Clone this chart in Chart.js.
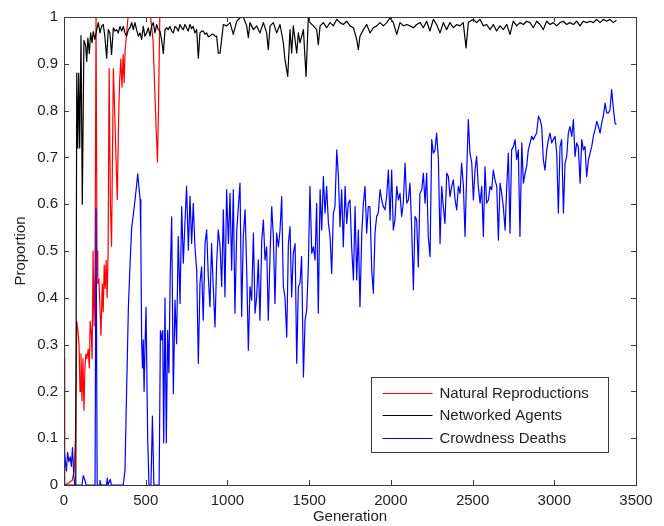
<!DOCTYPE html>
<html>
<head>
<meta charset="utf-8">
<title>Proportion per generation</title>
<script src="https://cdn.jsdelivr.net/npm/chart.js@4.4.0/dist/chart.umd.min.js"></script>
<style>
  html, body { margin: 0; padding: 0; background: #fff; }
  #chart { display: block; }
</style>
</head>
<body>
<canvas id="chart" width="664" height="526"></canvas>
<script>
// tick values and their labels on both axes
var xTicks = [0, 500, 1000, 1500, 2000, 2500, 3000, 3500];
var xTickLabels = ['0', '500', '1000', '1500', '2000', '2500', '3000', '3500'];
var yTicks = [0, 0.1, 0.2, 0.3, 0.4, 0.5, 0.6, 0.7, 0.8, 0.9, 1];
var yTickLabels = ['0', '0.1', '0.2', '0.3', '0.4', '0.5', '0.6', '0.7', '0.8', '0.9', '1'];

var seriesNames = ['Natural Reproductions', 'Networked Agents', 'Crowdness Deaths'];

// Natural Reproductions (red)
var redGen = [0, 4, 30, 50, 62, 70, 78, 85, 92, 98,
  104, 110, 116, 122, 128, 134, 140, 148, 155, 160,
  166, 172, 178, 184, 190, 196, 202, 207, 214, 220,
  226, 234, 240, 246, 252, 258, 264, 270, 276, 284,
  291, 302, 310, 318, 326, 334, 340, 348, 355, 362,
  368, 374, 382, 392, 530, 545, 555, 565, 572, 578,
  586, 600];
var redVal = [0.27, 0, 0.005, 0.01, 0.03, 0.1, 0.35, 0.33, 0.30, 0.2,
  0.28, 0.18, 0.27, 0.16, 0.25, 0.28, 0.27, 0.29, 0.25, 0.35,
  0.33, 0.27, 0.5, 0.34, 0.46, 1.0, 0.5, 0.43, 0.44, 0.38,
  0.32, 0.43, 0.37, 0.47, 0.42, 0.48, 0.40, 0.5, 0.89, 0.6,
  0.51, 0.89, 0.8, 0.7, 0.61, 0.78, 0.86, 0.91, 0.85, 0.92,
  0.86, 0.93, 0.96, 1.0, 1.0, 0.95, 0.85, 0.75, 0.69, 0.8,
  1.0, 1.0];

// Networked Agents (black)
var blackGen = [0, 3, 72, 78, 84, 90, 96, 104, 112, 122,
  132, 139, 146, 155, 163, 172, 179, 189, 200, 210,
  220, 230, 240, 250, 261, 271, 281, 291, 302, 312,
  322, 332, 343, 353, 363, 373, 383, 394, 404, 414,
  424, 434, 444, 455, 465, 475, 485, 495, 506, 516,
  526, 536, 546, 557, 567, 577, 587, 597, 608, 618,
  628, 638, 648, 659, 669, 679, 689, 699, 710, 720,
  730, 740, 750, 760, 771, 781, 791, 801, 812, 822,
  832, 842, 852, 863, 873, 883, 893, 903, 914, 924,
  934, 944, 955, 975, 995, 1016, 1036, 1057, 1077, 1097,
  1118, 1128, 1138, 1159, 1179, 1199, 1220, 1240, 1250, 1261,
  1281, 1301, 1322, 1342, 1352, 1369, 1383, 1393, 1403, 1424,
  1434, 1444, 1465, 1481, 1495, 1505, 1526, 1546, 1556, 1567,
  1587, 1607, 1628, 1648, 1669, 1689, 1709, 1730, 1750, 1771,
  1791, 1801, 1811, 1832, 1852, 1873, 1893, 1913, 1934, 1954,
  1975, 1995, 2015, 2036, 2056, 2077, 2097, 2117, 2138, 2158,
  2179, 2199, 2219, 2239, 2260, 2280, 2301, 2321, 2341, 2362,
  2382, 2403, 2423, 2443, 2460, 2474, 2484, 2505, 2525, 2545,
  2566, 2586, 2607, 2627, 2647, 2668, 2688, 2709, 2729, 2749,
  2770, 2790, 2811, 2831, 2851, 2872, 2892, 2913, 2933, 2953,
  2974, 2994, 3015, 3035, 3055, 3076, 3096, 3117, 3137, 3157,
  3178, 3198, 3219, 3239, 3259, 3280, 3300, 3321, 3341, 3361,
  3380];
var blackVal = [0.85, 0, 0, 0.88, 0.72, 0.88, 0.72, 0.96, 0.60, 0.95,
  0.94, 0.905, 0.955, 0.922, 0.966, 0.945, 0.969, 0.952, 0.973, 0.988,
  0.966, 0.980, 0.984, 0.959, 0.912, 0.973, 0.966, 0.920, 0.977, 0.970,
  0.973, 0.966, 0.980, 0.970, 0.980, 0.966, 0.959, 0.973, 0.977, 0.988,
  0.973, 0.988, 0.973, 0.959, 0.966, 0.952, 0.980, 0.959, 0.966, 0.977,
  0.959, 0.980, 0.988, 0.966, 0.984, 0.973, 0.970, 0.952, 0.922, 0.973,
  0.977, 0.973, 0.980, 0.970, 0.966, 0.980, 0.977, 0.970, 0.984, 0.977,
  0.973, 0.984, 0.977, 0.970, 0.984, 0.975, 0.980, 0.966, 0.973, 0.912,
  0.966, 0.970, 0.970, 0.963, 0.966, 0.958, 0.959, 0.963, 0.963, 0.959,
  0.959, 0.923, 0.923, 0.984, 0.981, 0.988, 0.963, 0.991, 0.998, 1.0,
  0.981, 0.956, 0.988, 0.973, 0.981, 0.966, 0.988, 0.966, 0.930, 0.981,
  0.988, 0.966, 0.984, 0.945, 0.909, 0.873, 0.973, 0.923, 0.981, 0.923,
  0.966, 0.945, 0.973, 0.873, 0.998, 0.988, 0.981, 0.973, 0.941, 0.981,
  0.988, 0.977, 0.988, 0.981, 0.995, 0.988, 0.984, 0.991, 0.981, 0.977,
  0.952, 0.930, 0.959, 0.973, 0.984, 0.966, 0.977, 0.981, 0.988, 0.981,
  0.988, 0.998, 0.988, 0.963, 0.988, 0.981, 0.984, 0.981, 0.977, 0.984,
  0.988, 0.977, 0.991, 0.970, 0.995, 0.984, 0.966, 0.988, 0.973, 0.988,
  0.977, 0.984, 0.981, 0.988, 0.934, 0.988, 0.991, 0.995, 0.988, 0.995,
  0.981, 0.984, 0.973, 0.984, 0.970, 0.981, 0.973, 0.984, 0.963, 0.991,
  0.981, 0.988, 0.984, 0.991, 0.988, 0.977, 0.991, 0.984, 0.973, 0.991,
  0.984, 0.988, 0.981, 0.988, 0.991, 0.984, 0.988, 0.984, 0.991, 0.981,
  0.991, 0.988, 0.991, 0.988, 0.995, 0.988, 0.995, 0.991, 0.995, 0.988,
  0.993];

// Crowdness Deaths (blue)
var blueGen = [0, 8, 15, 22, 30, 38, 45, 52, 60, 66,
  110, 118, 128, 136, 190, 196, 203, 215, 220, 226,
  260, 265, 270, 283, 290, 362, 373, 383, 394, 404,
  414, 425, 435, 444, 451, 460, 466, 470, 475, 480,
  485, 490, 496, 502, 512, 520, 532, 541, 550, 582,
  590, 598, 604, 610, 618, 626, 634, 642, 650, 659,
  669, 679, 689, 699, 710, 720, 730, 740, 750, 761,
  771, 781, 791, 801, 812, 822, 832, 842, 852, 863,
  873, 883, 893, 903, 914, 924, 934, 944,
  955, 965, 975, 985, 995, 1006, 1016, 1026, 1036, 1046,
  1057, 1067, 1077, 1087, 1097, 1108, 1118, 1128, 1138, 1148,
  1159, 1169, 1179, 1189, 1199, 1210, 1220, 1230, 1240, 1250,
  1261, 1271, 1281, 1291, 1301, 1312, 1322, 1332, 1342, 1352,
  1363, 1373, 1383, 1393, 1403, 1414, 1424, 1434, 1444, 1454,
  1465, 1475, 1485, 1495, 1505, 1516, 1526, 1536, 1546, 1556,
  1567, 1577, 1587, 1597, 1607, 1618, 1628, 1638, 1648, 1658,
  1669, 1679, 1689, 1699, 1709, 1720, 1730, 1740, 1750, 1760,
  1771, 1781, 1791, 1801, 1811, 1822, 1832, 1842, 1852, 1862,
  1872, 1883, 1893, 1903, 1913, 1923, 1934, 1944, 1954, 1964,
  1974, 1985, 1995, 2005, 2015, 2025, 2036, 2046, 2056, 2066,
  2076, 2087, 2097, 2107, 2117, 2127, 2138, 2148, 2158, 2168,
  2178, 2189, 2199, 2209, 2219, 2229, 2240, 2250, 2260, 2270,
  2280, 2291, 2301, 2311, 2321, 2331, 2342, 2352, 2362, 2372,
  2382, 2393, 2403, 2413, 2423, 2433, 2444, 2454, 2464, 2474,
  2484, 2495, 2505, 2515, 2525, 2535, 2546, 2556, 2566, 2576,
  2586, 2597, 2607, 2617, 2627, 2637, 2648, 2658,
  2668, 2678, 2688, 2699, 2709, 2719, 2729, 2739, 2750, 2760,
  2770, 2780, 2790, 2801, 2811, 2821, 2831, 2841, 2852, 2862,
  2872, 2882, 2892, 2903, 2913, 2923, 2933, 2943, 2954, 2964,
  2974, 2984, 2994, 3005, 3015, 3025, 3035, 3045, 3056, 3066,
  3076, 3086, 3096, 3107, 3117, 3127, 3137, 3147, 3158, 3168,
  3178, 3188, 3198, 3209, 3219, 3229, 3239, 3249, 3260, 3270,
  3280, 3290, 3300, 3311, 3321, 3331, 3341, 3351, 3362, 3372,
  3380];
var blueVal = [0.08, 0.05, 0.03, 0.07, 0.05, 0.06, 0.04, 0.08, 0.02, 0,
  0, 0.02, 0.01, 0, 0, 0.59, 0, 0, 0.01, 0,
  0, 0.015, 0, 0.012, 0, 0, 0.03, 0.2, 0.38, 0.47,
  0.55, 0.58, 0.61, 0.64, 0.665, 0.63, 0.61, 0.53, 0.31, 0.25,
  0.31, 0.2, 0.3, 0.38, 0.1, 0, 0, 0.147, 0, 0,
  0.33, 0.31, 0.33, 0.09, 0.40, 0.09, 0.33, 0.24, 0.45, 0.573,
  0.195, 0.395, 0.302, 0.531, 0.388, 0.595, 0.474, 0.559, 0.638, 0.502,
  0.617, 0.516, 0.602, 0.509, 0.459, 0.26, 0.431, 0.466, 0.352, 0.516,
  0.545, 0.445, 0.381, 0.516, 0.417, 0.338, 0.474, 0.545,
  0.509, 0.424, 0.588, 0.402, 0.631, 0.516, 0.623, 0.459, 0.631, 0.367,
  0.545, 0.595, 0.645, 0.360, 0.531, 0.588, 0.459, 0.288, 0.424, 0.395,
  0.538, 0.367, 0.402, 0.481, 0.352, 0.523, 0.566, 0.481, 0.509, 0.352,
  0.495, 0.595, 0.531, 0.388, 0.538, 0.509, 0.545, 0.616, 0.424, 0.402,
  0.316, 0.516, 0.552, 0.402, 0.495, 0.516, 0.260, 0.424, 0.431, 0.488,
  0.231, 0.352, 0.374, 0.466, 0.638, 0.495, 0.509, 0.481, 0.602, 0.367,
  0.631, 0.545, 0.659, 0.581, 0.638, 0.559, 0.531, 0.452, 0.581, 0.595,
  0.716, 0.659, 0.552, 0.631, 0.509, 0.638, 0.559, 0.602, 0.609, 0.509,
  0.438, 0.595, 0.438, 0.545, 0.381, 0.538, 0.602, 0.638, 0.538, 0.595,
  0.595, 0.459, 0.410, 0.538, 0.574, 0.581, 0.631, 0.609, 0.595, 0.588,
  0.616, 0.673, 0.566, 0.673, 0.545, 0.566, 0.638, 0.609, 0.623, 0.574,
  0.602, 0.688, 0.602, 0.609, 0.645, 0.552, 0.417, 0.574, 0.566, 0.466,
  0.623, 0.631, 0.666, 0.602, 0.666, 0.531, 0.488, 0.738, 0.709, 0.716,
  0.752, 0.695, 0.516, 0.638, 0.595, 0.559, 0.666, 0.659, 0.616, 0.638,
  0.652, 0.609, 0.588, 0.638, 0.623, 0.688, 0.638, 0.531, 0.666, 0.781,
  0.709, 0.688, 0.609, 0.673, 0.702, 0.638, 0.602, 0.638, 0.531, 0.680,
  0.602, 0.609, 0.638, 0.631, 0.673, 0.652, 0.638, 0.523,
  0.645, 0.624, 0.595, 0.545, 0.638, 0.709, 0.538, 0.716, 0.723, 0.738,
  0.695, 0.716, 0.531, 0.731, 0.645, 0.666, 0.681, 0.716, 0.731, 0.745,
  0.738, 0.745, 0.752, 0.788, 0.781, 0.766, 0.695, 0.673, 0.716, 0.738,
  0.752, 0.731, 0.738, 0.745, 0.709, 0.581, 0.723, 0.738, 0.581, 0.688,
  0.702, 0.752, 0.766, 0.745, 0.781, 0.702, 0.731, 0.723, 0.645, 0.738,
  0.716, 0.723, 0.659, 0.695, 0.709, 0.723, 0.745, 0.759, 0.777, 0.766,
  0.752, 0.773, 0.788, 0.816, 0.795, 0.795, 0.802, 0.845, 0.802, 0.773,
  0.77];

var FONT = '"Liberation Sans", Arial, Helvetica, sans-serif';
var TEXT = '#1e1e1e';
var AXIS = '#3c3c3c';

function toPoints(gens, vals) {
  var pts = [];
  for (var i = 0; i < gens.length && i < vals.length; i++) {
    pts.push({x: gens[i], y: vals[i]});
  }
  return pts;
}

function labelFor(values, labels) {
  return function(value) {
    var i = values.indexOf(value);
    return i >= 0 ? labels[i] : '';
  };
}

// box round the plot and inward ticks on all four sides, matlab style
var boxPlugin = {
  id: 'box',
  afterDatasetsDraw: function(chart) {
    var ctx = chart.ctx, a = chart.chartArea;
    var xs = chart.scales.x, ys = chart.scales.y;
    var len = 5;
    ctx.save();
    ctx.strokeStyle = AXIS;
    ctx.lineWidth = 1;
    ctx.beginPath();
    xs.ticks.forEach(function(t) {
      var px = Math.round(xs.getPixelForValue(t.value)) + 0.5;
      ctx.moveTo(px, a.bottom); ctx.lineTo(px, a.bottom - len);
      ctx.moveTo(px, a.top); ctx.lineTo(px, a.top + len);
    });
    ys.ticks.forEach(function(t) {
      var py = Math.round(ys.getPixelForValue(t.value)) + 0.5;
      ctx.moveTo(a.left, py); ctx.lineTo(a.left + len, py);
      ctx.moveTo(a.right, py); ctx.lineTo(a.right - len, py);
    });
    ctx.stroke();
    ctx.strokeRect(Math.round(a.left) + 0.5, Math.round(a.top) + 0.5,
      Math.round(a.right - a.left), Math.round(a.bottom - a.top));
    ctx.restore();
  }
};

// legend box in the lower right corner of the plot
var legendPlugin = {
  id: 'boxLegend',
  afterDraw: function(chart) {
    var ctx = chart.ctx, a = chart.chartArea;
    var w = 237, h = 75;
    var left = Math.round(a.right - 28 - w) + 0.5;
    var top = Math.round(a.bottom - 33 - h) + 0.5;
    ctx.save();
    ctx.fillStyle = '#fff';
    ctx.fillRect(left, top, w, h);
    ctx.strokeStyle = AXIS;
    ctx.lineWidth = 1;
    ctx.strokeRect(left, top, w, h);
    ctx.font = '15px ' + FONT;
    ctx.textBaseline = 'middle';
    chart.data.datasets.forEach(function(ds, i) {
      var y = Math.round(top + 15 + i * 22.5) + 0.5;
      ctx.strokeStyle = ds.borderColor;
      ctx.beginPath();
      ctx.moveTo(left + 11, y);
      ctx.lineTo(left + 61, y);
      ctx.stroke();
      ctx.fillStyle = TEXT;
      ctx.fillText(ds.label, left + 68, y);
    });
    ctx.restore();
  }
};

function drawChart() {
  var ctx = document.getElementById('chart').getContext('2d');
  new Chart(ctx, {
    type: 'line',
    data: {
      datasets: [
        {label: seriesNames[0], data: toPoints(redGen, redVal), borderColor: '#ff0000', order: 3},
        {label: seriesNames[1], data: toPoints(blackGen, blackVal), borderColor: '#000000', order: 2},
        {label: seriesNames[2], data: toPoints(blueGen, blueVal), borderColor: '#0000ff', order: 1}
      ]
    },
    options: {
      responsive: false,
      animation: false,
      devicePixelRatio: 1,
      layout: {padding: {top: 17, right: 28, left: 0, bottom: 0}, autoPadding: false},
      plugins: {legend: {display: false}, tooltip: {enabled: false}},
      elements: {
        point: {radius: 0},
        line: {borderWidth: 1.2, tension: 0, fill: false, borderJoinStyle: 'round'}
      },
      scales: {
        x: {
          type: 'linear', min: 0, max: 3500,
          grid: {display: false, drawTicks: false},
          border: {display: false},
          ticks: {padding: 7, color: TEXT, font: {family: FONT, size: 15}, maxRotation: 0, autoSkip: false,
            callback: labelFor(xTicks, xTickLabels)},
          afterBuildTicks: function(s) { s.ticks = xTicks.map(function(v) { return {value: v}; }); },
          afterFit: function(s) { s.height = 41; },
          title: {display: true, text: 'Generation', color: TEXT,
            font: {family: FONT, size: 15, lineHeight: 1.2}, padding: {top: 0, bottom: 0}}
        },
        y: {
          type: 'linear', min: 0, max: 1,
          grid: {display: false, drawTicks: false},
          border: {display: false},
          ticks: {padding: 6, color: TEXT, font: {family: FONT, size: 15}, autoSkip: false,
            callback: labelFor(yTicks, yTickLabels)},
          afterBuildTicks: function(s) { s.ticks = yTicks.map(function(v) { return {value: v}; }); },
          afterFit: function(s) { s.width = 64; },
          title: {display: true, text: 'Proportion', color: TEXT,
            font: {family: FONT, size: 15, lineHeight: 1.2}, padding: {top: 12, bottom: 0}}
        }
      }
    },
    plugins: [boxPlugin, legendPlugin]
  });
}

window.onload = function() {
  drawChart();
};
</script>
</body>
</html>
